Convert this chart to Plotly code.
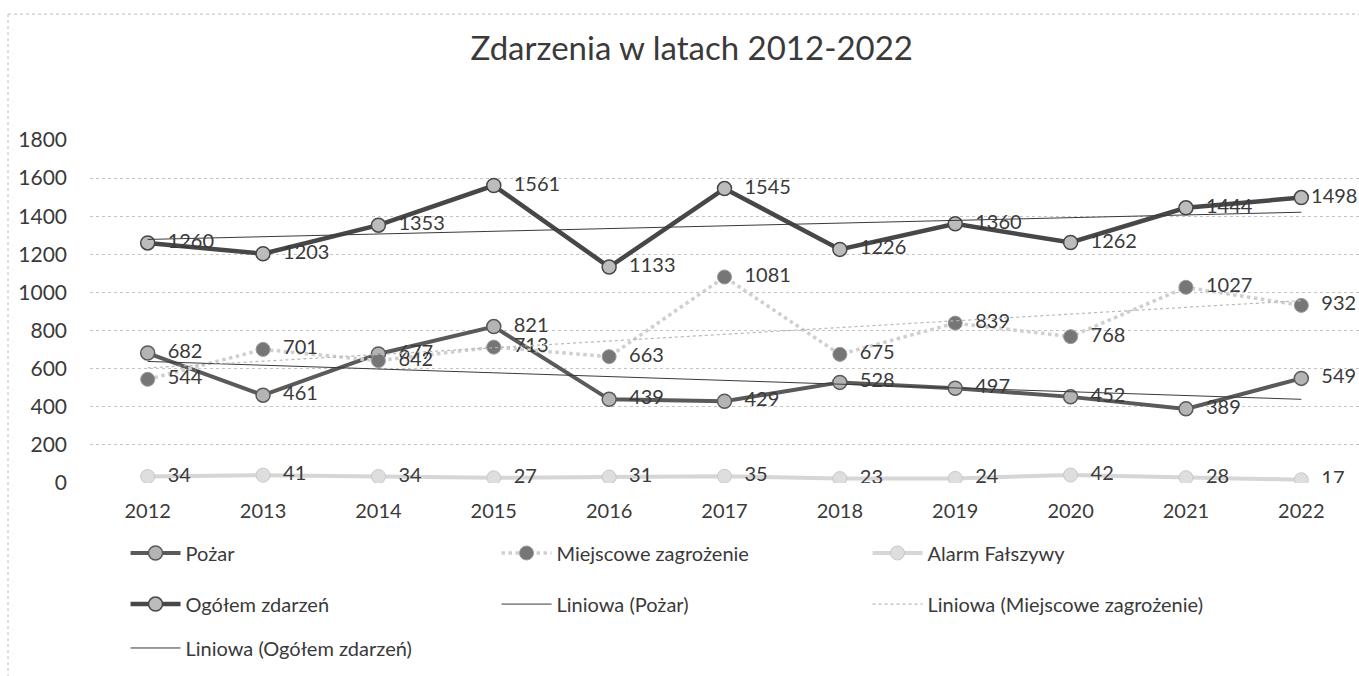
import numpy as np
import plotly.graph_objects as go

years = ["2012", "2013", "2014", "2015", "2016", "2017", "2018", "2019", "2020", "2021", "2022"]
pozar = [682, 461, 677, 821, 439, 429, 528, 497, 452, 389, 549]
miejscowe = [544, 701, 642, 713, 663, 1081, 675, 839, 768, 1027, 932]
alarm = [34, 41, 34, 27, 31, 35, 23, 24, 42, 28, 17]
ogolem = [1260, 1203, 1353, 1561, 1133, 1545, 1226, 1360, 1262, 1444, 1498]
y_ticks = [0, 200, 400, 600, 800, 1000, 1200, 1400, 1600, 1800]

FONT = "Lato"
TXT = "#3a3a3a"


def trend(vals):
    idx = np.arange(len(vals))
    a, b = np.polyfit(idx, vals, 1)
    return list(a * idx + b)


def labels(vals, hug_last=False):
    out = ["  " + str(v) for v in vals]
    if hug_last:
        # the last label hugs its marker so it stays inside the chart, as in the original
        out[-1] = str(vals[-1])
    return out


fig = go.Figure()

lbl = dict(family=FONT, size=20, color=TXT)

fig.add_trace(go.Scatter(
    x=years, y=pozar, name="Pożar", mode="lines+markers+text", legend="legend",
    line=dict(color="#5a5a5a", width=4),
    marker=dict(size=14, color="#b4b4b4", line=dict(color="#5a5a5a", width=1.5)),
    text=labels(pozar), textposition="middle right", textfont=lbl,
))
fig.add_trace(go.Scatter(
    x=years, y=miejscowe, name="Miejscowe zagrożenie", mode="lines+markers+text", legend="legend",
    line=dict(color="#cfcfcf", width=3.5, dash="dot"),
    marker=dict(size=14, color="#767676", line=dict(color="#9a9a9a", width=1)),
    text=labels(miejscowe), textposition="middle right", textfont=lbl,
))
fig.add_trace(go.Scatter(
    x=years, y=alarm, name="Alarm Fałszywy", mode="lines+markers+text", legend="legend",
    line=dict(color="#d6d6d6", width=4),
    marker=dict(size=14, color="#dedede", line=dict(color="#c8c8c8", width=1)),
    text=labels(alarm), textposition="middle right", textfont=lbl,
))
fig.add_trace(go.Scatter(
    x=years, y=ogolem, name="Ogółem zdarzeń", mode="lines+markers+text", legend="legend2",
    line=dict(color="#474747", width=4.5),
    marker=dict(size=14, color="#bcbcbc", line=dict(color="#474747", width=1.5)),
    text=labels(ogolem, hug_last=True), textposition="middle right", textfont=lbl,
))
fig.add_trace(go.Scatter(
    x=years, y=trend(pozar), name="Liniowa (Pożar)", mode="lines", legend="legend2",
    line=dict(color="#3a3a3a", width=1), hoverinfo="skip",
))
fig.add_trace(go.Scatter(
    x=years, y=trend(miejscowe), name="Liniowa (Miejscowe zagrożenie)", mode="lines", legend="legend2",
    line=dict(color="#b8b8b8", width=1.2, dash="dot"), hoverinfo="skip",
))
fig.add_trace(go.Scatter(
    x=years, y=trend(ogolem), name="Liniowa (Ogółem zdarzeń)", mode="lines", legend="legend3",
    line=dict(color="#3a3a3a", width=1), hoverinfo="skip",
))


def leg(yv):
    return dict(orientation="h", x=0.028, xanchor="left", y=yv, yanchor="middle",
                entrywidth=306, entrywidthmode="pixels", itemwidth=50,
                font=dict(family=FONT, size=20, color=TXT),
                bgcolor="rgba(0,0,0,0)")


fig.update_layout(
    width=1359, height=676,
    paper_bgcolor="white", plot_bgcolor="white",
    margin=dict(l=90, r=0, t=140, b=193),
    title=dict(text="Zdarzenia w latach 2012-2022", x=0.509, xref="container", xanchor="center",
               y=0.928, yanchor="middle", font=dict(family=FONT, size=33, color=TXT)),
    font=dict(family=FONT, color=TXT),
    showlegend=True,
    legend=leg(-0.204),
    legend2=leg(-0.353),
    legend3=leg(-0.481),
    xaxis=dict(type="category", range=[-0.5, 10.5], showgrid=False, zeroline=False,
               showline=False, ticks="", tickfont=dict(family=FONT, size=20, color=TXT),
               ticklabelstandoff=14),
    yaxis=dict(range=[0, 1800], tickvals=y_ticks, showgrid=True, gridcolor="#c4c4c4",
               griddash="dot", gridwidth=1, zeroline=False, showline=False, ticks="",
               tickfont=dict(family=FONT, size=21, color=TXT), ticklabelstandoff=22),
    shapes=[
        dict(type="line", xref="paper", yref="paper", x0=-0.0646, x1=1.0, y0=1.367, y1=1.367,
             line=dict(color="#bdbdbd", width=1, dash="dot")),
        dict(type="line", xref="paper", yref="paper", x0=-0.0646, x1=-0.0646, y0=1.367, y1=-0.563,
             line=dict(color="#bdbdbd", width=1, dash="dot")),
    ],
)

fig.write_html("out.html")
